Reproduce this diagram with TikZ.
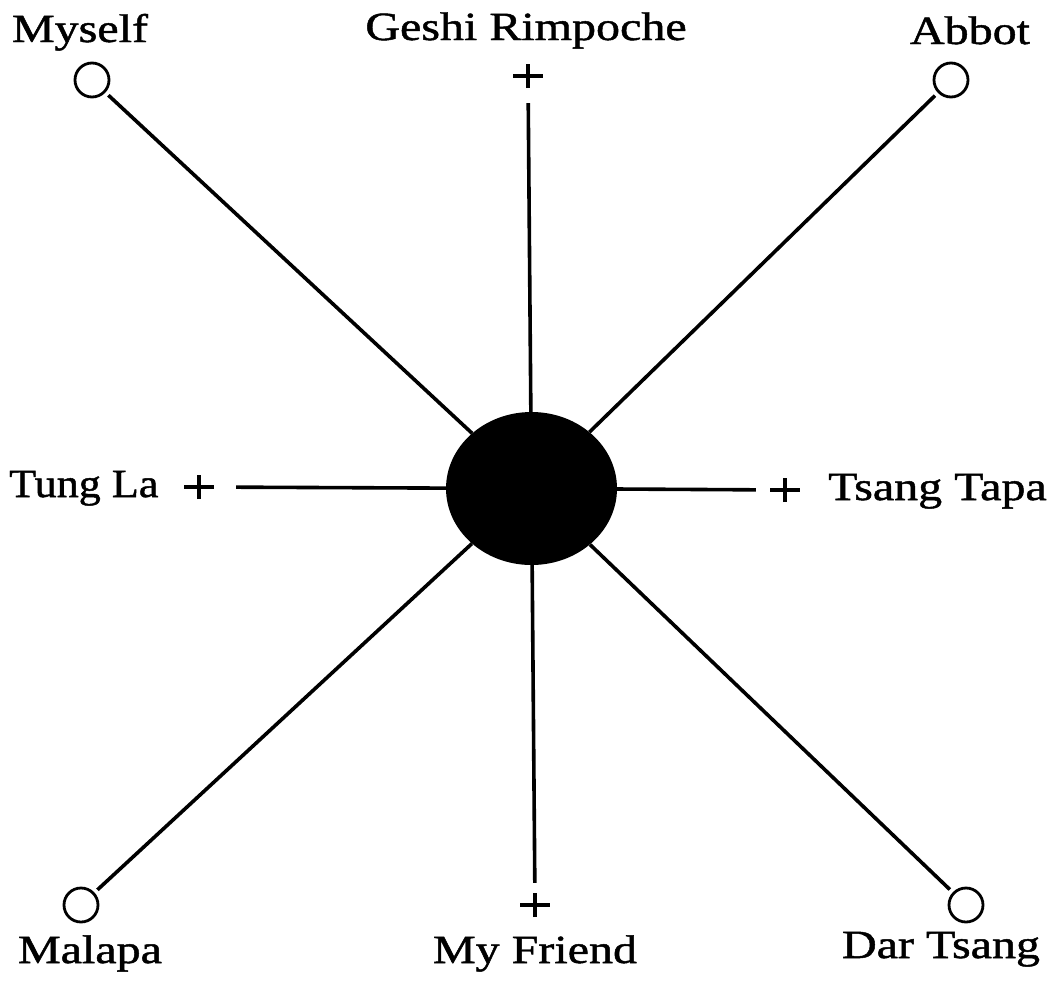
\documentclass[tikz,border=0pt]{standalone}
\usepackage{fontspec}
\setmainfont{Liberation Serif}[FakeStretch=1.2,FakeBold=1.2]
\usetikzlibrary{shapes.geometric}
\begin{document}
\begin{tikzpicture}[x=1pt,y=-1pt,
  lbl/.style={font=\fontsize{40}{46}\selectfont, inner sep=0pt, anchor=base},
  ring/.style={circle, draw, line width=2.8pt, minimum size=34pt, inner sep=0pt},
  plusmark/.style={inner sep=0pt, minimum width=34pt, minimum height=28pt, path picture={
     \draw[line width=4pt] ([xshift=-15pt]path picture bounding box.center) -- ([xshift=15pt]path picture bounding box.center);
     \draw[line width=4pt] ([yshift=-12pt]path picture bounding box.center) -- ([yshift=12pt]path picture bounding box.center);}},
  spoke/.style={line width=3.6pt}]
\useasboundingbox (0,0) rectangle (1056,980);
\node[ellipse, fill=black, minimum width=171pt, minimum height=153pt, inner sep=0pt] (hub) at (531.5,488.5) {};
% labels
\node[lbl] (lMyself) at (80,42) {Myself};
\node[lbl] (lGeshi) at (526,40) {Geshi Rimpoche};
\node[lbl] (lAbbot) at (970,44) {Abbot};
\node[lbl, anchor=base west] (lTung) at (9,497) {\scalebox{0.92}[1]{Tung La}};
\node[lbl, anchor=base west] (lTsang) at (828,500) {Tsang Tapa};
\node[lbl] (lMalapa) at (90,963) {Malapa};
\node[lbl] (lFriend) at (535,963) {My Friend};
\node[lbl] (lDar) at (941,958) {Dar Tsang};
% markers
\node[ring] (myself) at (92,80) {};
\node[ring] (abbot) at (951,80) {};
\node[ring] (malapa) at (81,905) {};
\node[ring] (dar) at (966,905) {};
\node[plusmark] (geshi) at (528,76) {};
\node[plusmark] (tung) at (199,487) {};
\node[plusmark] (tsang) at (785,490) {};
\node[plusmark] (friend) at (535,905) {};
% spokes
\draw[spoke, shorten <=4pt] (myself) -- (hub);
\draw[spoke, shorten <=4pt] (abbot) -- (hub);
\draw[spoke, shorten <=4pt] (malapa) -- (hub);
\draw[spoke, shorten <=4pt] (dar) -- (hub);
\draw[spoke, shorten <=13pt] (geshi) -- (hub);
\draw[spoke, shorten <=20pt] (tung) -- (hub);
\draw[spoke, shorten <=12pt] (tsang) -- (hub);
\draw[spoke, shorten <=8pt] (friend) -- (hub);
\end{tikzpicture}
\end{document}
